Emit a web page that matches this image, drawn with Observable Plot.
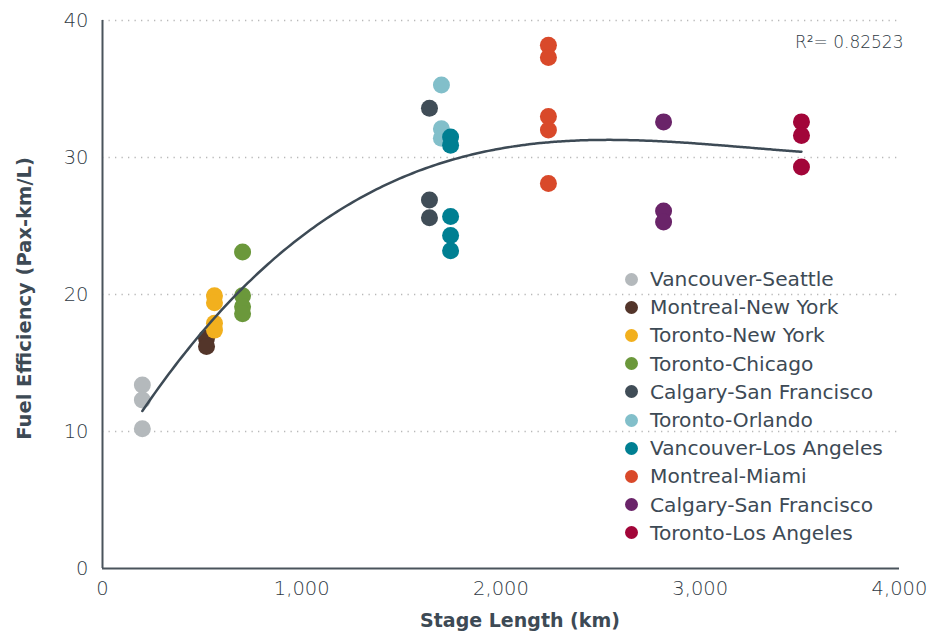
<!DOCTYPE html>
<html>
<head>
<meta charset="utf-8">
<script src="https://cdn.jsdelivr.net/npm/d3@7"></script>
<script src="https://cdn.jsdelivr.net/npm/@observablehq/plot@0.6"></script>
<style>
  body { margin: 0; background: #fff; }
  #wrap { position: relative; width: 942px; height: 634px; font-family: "DejaVu Sans", sans-serif; }
  #legend { position: absolute; left: 625px; top: 265px; }
  .row { display: flex; align-items: center; height: 28.2px; color: #3d4a55; font-size: 20.2px; font-weight: 400; }
  .sw { width: 13px; height: 13px; border-radius: 50%; margin-right: 12px; }
</style>
</head>
<body>
<div id="wrap"></div>
<script>
// Routes (keys unique; labels as shown)
const routeKeys = ["VS", "MNY", "TNY", "TC", "CSF1", "TO", "VLA", "MM", "CSF2", "TLA"];
const routeLabels = ["Vancouver-Seattle", "Montreal-New York", "Toronto-New York", "Toronto-Chicago",
  "Calgary-San Francisco", "Toronto-Orlando", "Vancouver-Los Angeles", "Montreal-Miami",
  "Calgary-San Francisco", "Toronto-Los Angeles"];
const routeColors = ["#b4b9bc", "#53352a", "#f2b01e", "#6b983b", "#404d57", "#82bfca", "#007f92", "#d9492a", "#6a2469", "#a20539"];
// stage length (km) per route
const stageLength = [200, 522, 562, 703, 1641, 1701, 1747, 2238, 2816, 3508];
// fuel efficiency values (Pax-km/L) per route
const efficiency = [
  [13.4, 12.3, 10.2],
  [16.8, 16.2],
  [19.9, 19.4, 17.9, 17.4],
  [23.1, 19.9, 19.1, 18.6],
  [33.6, 26.9, 25.6],
  [35.3, 32.1, 31.4],
  [31.5, 30.9, 25.7, 24.3, 23.2],
  [38.2, 37.3, 33.0, 32.0, 28.1],
  [32.6, 26.1, 25.3],
  [32.6, 31.6, 29.3]
];
const xTicks = [0, 1000, 2000, 3000, 4000];
const yTicks = [0, 10, 20, 30, 40];
const r2Label = "R\u00b2= 0.82523";

const points = [];
routeKeys.forEach((k, i) => efficiency[i].forEach(v => points.push({key: k, x: stageLength[i], y: v})));

// Cubic least-squares trend line fitted to the points
function polyfit(xs, ys, deg) {
  const n = deg + 1;
  const A = Array.from({length: n}, () => new Array(n + 1).fill(0));
  for (let k = 0; k < xs.length; k++) {
    const p = [];
    for (let j = 0; j < n; j++) p.push(Math.pow(xs[k], j));
    for (let r = 0; r < n; r++) {
      for (let c = 0; c < n; c++) A[r][c] += p[r] * p[c];
      A[r][n] += p[r] * ys[k];
    }
  }
  for (let i = 0; i < n; i++) {
    let m = i;
    for (let r = i + 1; r < n; r++) if (Math.abs(A[r][i]) > Math.abs(A[m][i])) m = r;
    [A[i], A[m]] = [A[m], A[i]];
    for (let r = 0; r < n; r++) {
      if (r === i) continue;
      const f = A[r][i] / A[i][i];
      for (let c = i; c <= n; c++) A[r][c] -= f * A[i][c];
    }
  }
  return A.map((row, i) => row[n] / row[i]);
}
const coef = polyfit(points.map(d => d.x / 1000), points.map(d => d.y), 3);
const xmin = d3.min(stageLength), xmax = d3.max(stageLength);
const curve = d3.range(0, 201).map(i => {
  const x = xmin + (xmax - xmin) * i / 200;
  const t = x / 1000;
  return {x, y: coef[0] + coef[1] * t + coef[2] * t * t + coef[3] * t * t * t};
});

const chart = Plot.plot({
  width: 942,
  height: 634,
  marginLeft: 102,
  marginRight: 43,
  marginTop: 20,
  marginBottom: 66,
  style: {fontFamily: "DejaVu Sans, sans-serif", background: "#fff"},
  x: {domain: [0, 4000]},
  y: {domain: [0, 40]},
  color: {domain: routeKeys, range: routeColors},
  marks: [
    Plot.gridY(yTicks.filter(d => d > 0), {stroke: "#b8b8b8", strokeOpacity: 1, strokeWidth: 1.3, strokeDasharray: "1.3,5.2"}),
    Plot.axisX(xTicks, {tickSize: 0, tickPadding: 13, fontSize: 19.5, fontWeight: 300, fill: "#2f3a44", tickFormat: d3.format(","), label: null}),
    Plot.axisY(yTicks, {tickSize: 0, tickPadding: 14, fontSize: 19.5, fontWeight: 300, fill: "#2f3a44", label: null}),
    Plot.ruleX([0], {stroke: "#4a545c", strokeWidth: 2}),
    Plot.ruleY([0], {stroke: "#4a545c", strokeWidth: 2}),
    Plot.dot(points, {x: "x", y: "y", r: 8.5, fill: "key", stroke: null}),
    Plot.line(curve, {x: "x", y: "y", stroke: "#3d4a55", strokeWidth: 2.5, curve: "natural"}),
    Plot.text([r2Label], {frameAnchor: "top-right", lineAnchor: "middle", dx: 4, dy: 22, fontSize: 17, fontWeight: 300, fill: "#2f3a44", textAnchor: "end"}),
    Plot.text(["Stage Length (km)"], {frameAnchor: "bottom", lineAnchor: "middle", dx: 19, dy: 52, fontSize: 19, fontWeight: "bold", fill: "#3d4a55"}),
    Plot.text(["Fuel Efficiency (Pax-km/L)"], {frameAnchor: "left", textAnchor: "middle", lineAnchor: "middle", dx: -78, dy: 4, rotate: -90, fontSize: 19.5, fontWeight: "bold", fill: "#3d4a55"})
  ]
});

const wrap = document.getElementById("wrap");
wrap.appendChild(chart);
const legend = document.createElement("div");
legend.id = "legend";
routeKeys.forEach((k, i) => {
  const row = document.createElement("div");
  row.className = "row";
  const sw = document.createElement("span");
  sw.className = "sw";
  sw.style.background = routeColors[i];
  const lab = document.createElement("span");
  lab.textContent = routeLabels[i];
  row.appendChild(sw);
  row.appendChild(lab);
  legend.appendChild(row);
});
wrap.appendChild(legend);
</script>
</body>
</html>
